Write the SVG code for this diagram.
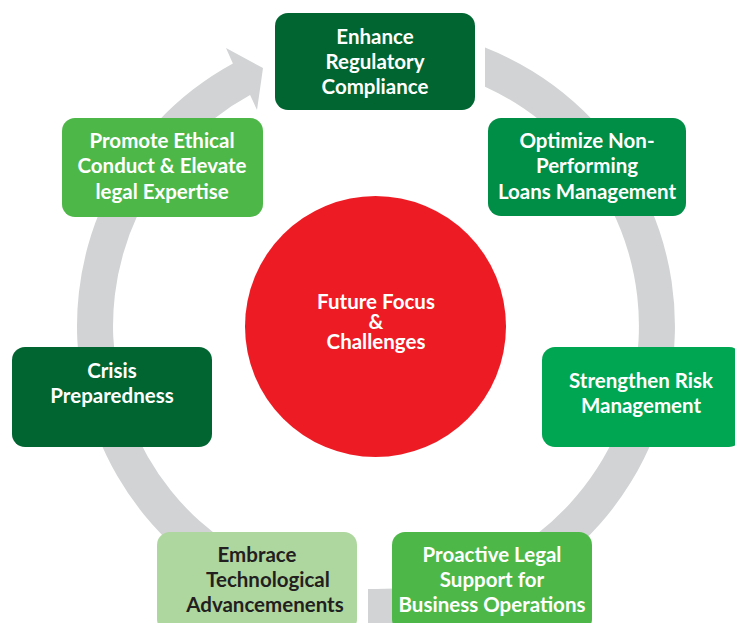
<svg xmlns="http://www.w3.org/2000/svg" width="735" height="623" viewBox="0 0 735 623">
<style>
.ring{fill:#D1D3D4;stroke:none}
.box{stroke:none}
.t{font-family:Lato,"Liberation Sans",Arial,sans-serif;font-weight:700;font-size:20.5px;text-anchor:middle;fill:#FFFFFF}
.dk{fill:#231F20}
</style>
<rect width="735" height="623" fill="#FFFFFF"/>
<g id="connectors">
<path class="ring" d="M485,47.6 A299,299 0 0 1 368,624.9 L368,588.9 A263,263 0 0 0 485,86.7 Z"/>
<path class="ring" d="M350,623.9 A299,299 0 0 1 232.9,63.5 L226,48 L263,68 L257,110 L250.1,95.1 A263,263 0 0 0 350,587.7 Z"/>
</g>
<g id="center">
<circle cx="375.5" cy="326.5" r="130.5" fill="#ED1C24"/>
<text class="t" x="376" y="309">Future Focus</text>
<text class="t" x="376" y="329">&amp;</text>
<text class="t" x="376" y="349">Challenges</text>
</g>
<g id="enhance">
<rect class="box" x="275" y="13" width="200" height="97" rx="13" fill="#006531"/>
<text class="t" x="375" y="44">Enhance</text>
<text class="t" x="375" y="69">Regulatory</text>
<text class="t" x="375" y="94">Compliance</text>
</g>
<g id="optimize">
<rect class="box" x="488" y="118" width="198" height="98" rx="13" fill="#008D45"/>
<text class="t" x="587" y="148">Optimize Non-</text>
<text class="t" x="587" y="173">Performing</text>
<text class="t" x="587" y="199">Loans Management</text>
</g>
<g id="strengthen">
<rect class="box" x="542" y="347" width="200" height="100" rx="13" fill="#00A651"/>
<text class="t" x="641" y="388">Strengthen Risk</text>
<text class="t" x="641" y="413">Management</text>
</g>
<g id="proactive">
<rect class="box" x="392" y="532" width="200" height="100" rx="13" fill="#4DB848"/>
<text class="t" x="492" y="562">Proactive Legal</text>
<text class="t" x="492" y="587">Support for</text>
<text class="t" x="492" y="612">Business Operations</text>
</g>
<g id="embrace">
<rect class="box" x="157" y="532" width="200" height="100" rx="13" fill="#AED69F"/>
<text class="t dk" x="257" y="562">Embrace</text>
<text class="t dk" x="268" y="587">Technological</text>
<text class="t dk" x="265" y="612">Advancemenents</text>
</g>
<g id="crisis">
<rect class="box" x="12" y="347" width="200" height="100" rx="13" fill="#006531"/>
<text class="t" x="112" y="378">Crisis</text>
<text class="t" x="112" y="403">Preparedness</text>
</g>
<g id="promote">
<rect class="box" x="62" y="118" width="201" height="99" rx="13" fill="#4DB848"/>
<text class="t" x="162" y="148">Promote Ethical</text>
<text class="t" x="162" y="173">Conduct &amp; Elevate</text>
<text class="t" x="162" y="199">legal Expertise</text>
</g>
</svg>
